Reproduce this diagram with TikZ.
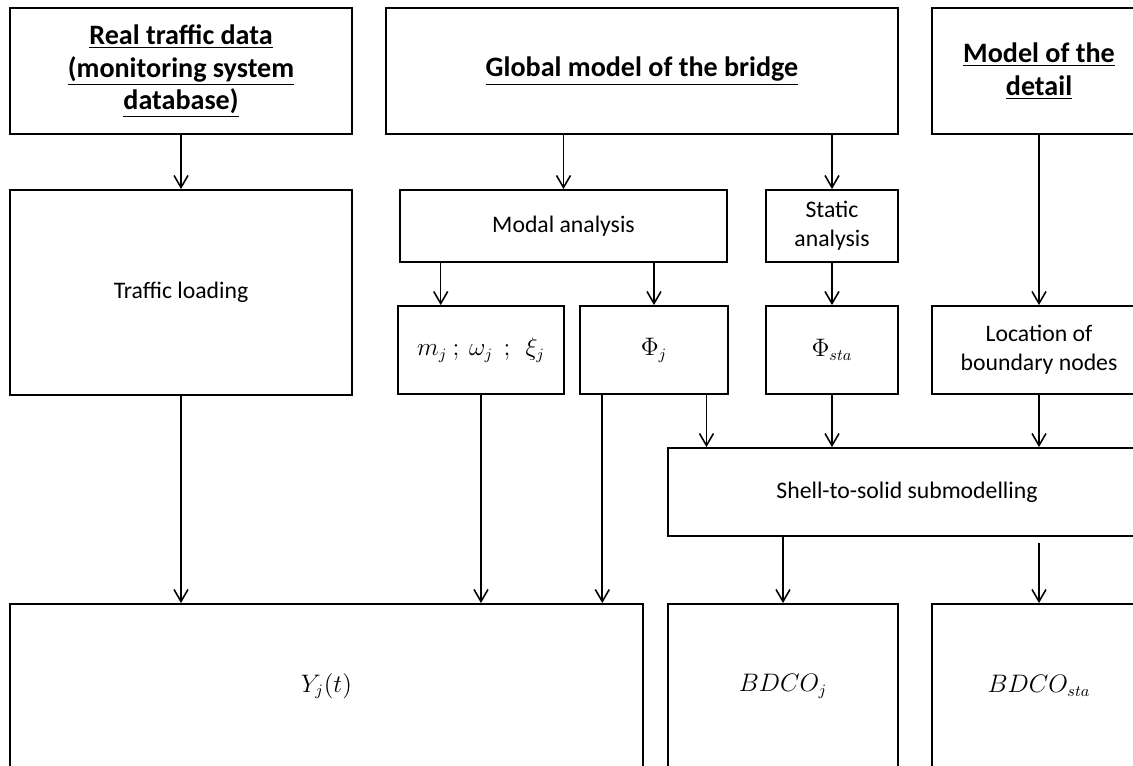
\documentclass[tikz,border=0pt]{standalone}
\usepackage{fontspec}
\setmainfont{Carlito}
\usetikzlibrary{arrows.meta,calc}

\begin{document}
\begin{tikzpicture}[
    x=0.02cm, y=-0.02cm,
    >={Straight Barb[length=2.4mm,width=2.8mm]},
    box/.style={draw, rectangle, line width=1.1pt, inner sep=2pt, align=center,
                font=\fontsize{13.5}{16.5}\selectfont},
    head/.style={box, font=\fontsize{16}{18.5}\selectfont\bfseries},
    flow/.style={->, line width=0.9pt}
]
\useasboundingbox (0,0) rectangle (1133,765);

% Inputs
\node[head, minimum width=6.84cm, minimum height=2.52cm] (data) at (181,71)
    {\underline{Real traffic data}\\\underline{(monitoring system}\\\underline{database)}};
\node[head, minimum width=10.24cm, minimum height=2.52cm] (global) at (642,71)
    {\underline{Global model of the bridge}};
\node[head, minimum width=4.28cm, minimum height=2.52cm] (detail) at (1039,71)
    {\underline{Model of the}\\\underline{detail}};

% Analyses
\node[box, minimum width=6.84cm, minimum height=4.1cm] (traffic) at (181,292.5) {Traffic loading};
\node[box, minimum width=6.54cm, minimum height=1.44cm] (modal) at (563.5,226) {Modal analysis};
\node[box, minimum width=2.64cm, minimum height=1.44cm] (static) at (832,226) {Static\\analysis};

% Results of the global model
\node[box, minimum width=3.32cm, minimum height=1.76cm] (modes) at (481,350) {$m_j\ ;\ \omega_j\ \ ;\ \ \xi_j$};
\node[box, minimum width=2.96cm, minimum height=1.76cm] (phij) at (654,350) {$\Phi_j$};
\node[box, minimum width=2.64cm, minimum height=1.76cm] (phista) at (832,350) {$\Phi_{sta}$};
\node[box, minimum width=4.28cm, minimum height=1.76cm] (bnodes) at (1039,350) {Location of\\boundary nodes};

% Submodel
\node[box, minimum width=9.56cm, minimum height=1.76cm] (shell) at (907,492) {Shell-to-solid submodelling};

% Outputs
\node[box, minimum width=12.66cm, minimum height=3.28cm] (resp) at (326.5,686) {$Y_j(t)$};
\node[box, minimum width=4.6cm, minimum height=3.28cm] (bdcoj) at (783,686) {$BDCO_j$};
\node[box, minimum width=4.28cm, minimum height=3.28cm] (bdcosta) at (1039,686) {$BDCO_{sta}$};

% Entry points off the box centres
\coordinate (modesin) at ($(modes.north west)!0.26!(modes.north east)$);
\coordinate (phijout) at ($(phij.south west)!0.155!(phij.south east)$);
\coordinate (phijsub) at ($(phij.south west)!0.85!(phij.south east)$);

% Arrows
\draw[flow] (data) -- (traffic);
\draw[flow] (modal.north |- global.south) -- (modal.north);
\draw[flow] (static.north |- global.south) -- (static.north);
\draw[flow] (detail) -- (bnodes);
\draw[flow] (modesin |- modal.south) -- (modesin);
\draw[flow] (phij.north |- modal.south) -- (phij.north);
\draw[flow] (static) -- (phista);
\draw[flow] (traffic.south) -- (traffic.south |- resp.north);
\draw[flow] (modes.south) -- (modes.south |- resp.north);
\draw[flow] (phijout) -- (phijout |- resp.north);
\draw[flow] (phijsub) -- (phijsub |- shell.north);
\draw[flow] (phista) -- (phista.south |- shell.north);
\draw[flow] (bnodes) -- (bnodes.south |- shell.north);
\draw[flow] (bdcoj.north |- shell.south) -- (bdcoj.north);
\draw[flow, shorten <=0.12cm] (bdcosta.north |- shell.south) -- (bdcosta.north);

\end{tikzpicture}
\end{document}
